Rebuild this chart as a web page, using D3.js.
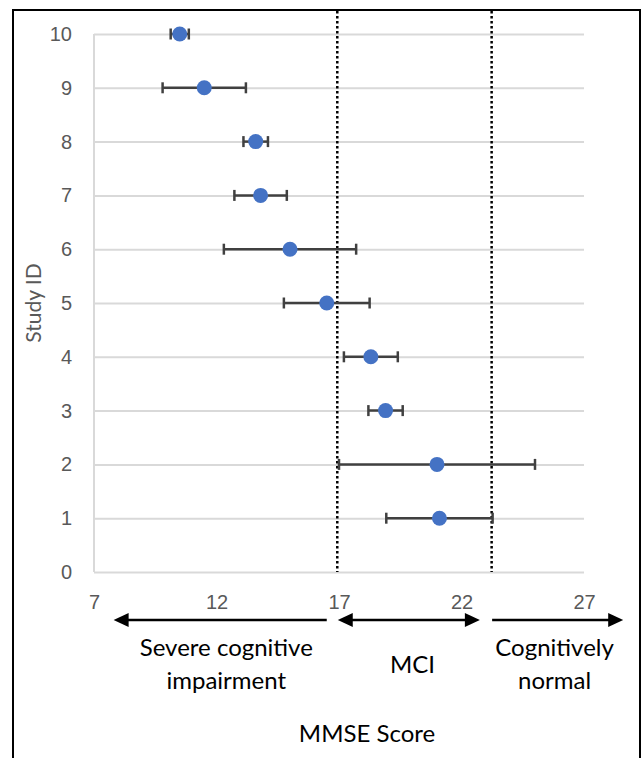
<!DOCTYPE html>
<html>
<head>
<meta charset="utf-8">
<script src="https://cdn.jsdelivr.net/npm/d3@7"></script>
<style>
  body { margin: 0; background: #fff; }
  svg { font-family: Lato, "Open Sans", sans-serif; }
</style>
</head>
<body>
<svg id="chart"></svg>
<script>
const width = 643, height = 758;

// données
const studyIds = [1, 2, 3, 4, 5, 6, 7, 8, 9, 10];
const mmseMean = [21.1, 21.0, 18.9, 18.3, 16.5, 15.0, 13.8, 13.6, 11.5, 10.5];
const mmseErr  = [2.17, 4.0, 0.7, 1.1, 1.75, 2.7, 1.07, 0.5, 1.7, 0.37];
const xTicks = [7, 12, 17, 22, 27];
const yTicks = [0, 1, 2, 3, 4, 5, 6, 7, 8, 9, 10];
const cutoffs = [16.93, 23.23];

// zones de l'échelle MMSE (flèches sous l'axe)
const bandNames  = ["severe", "mci", "normal"];
const bandFrom   = [7.8, 16.95, 23.25];
const bandTo     = [16.5, 22.75, 28.6];
const bandHeads  = [["start"], ["start", "end"], ["end"]];
const bandLabels = [["Severe cognitive", "impairment"], ["MCI"], ["Cognitively", "normal"]];
const bandLabelX = [12.4, 20.0, 25.8];

const x = d3.scaleLinear().domain([7, 27]).range([94, 584]);
const y = d3.scaleLinear().domain([0, 10]).range([572, 34]);

const svg = d3.select("#chart")
    .attr("width", width)
    .attr("height", height);

// cadre
svg.append("rect")
    .attr("x", 13).attr("y", 10)
    .attr("width", 627).attr("height", 760)
    .attr("fill", "none")
    .attr("stroke", "#000")
    .attr("stroke-width", 2);

// grille horizontale + graduations Y
const yAxis = svg.append("g")
    .attr("transform", `translate(${x(7)},0)`)
    .call(d3.axisLeft(y).tickValues(yTicks).tickSize(-(x(27) - x(7))).tickPadding(22));
yAxis.select(".domain").remove();
yAxis.selectAll(".tick line")
    .attr("stroke", "#d9d9d9")
    .attr("stroke-width", 2);
yAxis.selectAll(".tick text")
    .attr("fill", "#595959")
    .style("font-size", "20px");

// ligne verticale de l'axe Y
svg.append("line")
    .attr("x1", x(7)).attr("x2", x(7))
    .attr("y1", y(10)).attr("y2", y(0))
    .attr("stroke", "#d9d9d9")
    .attr("stroke-width", 2);

// graduations X
const xAxis = svg.append("g")
    .attr("transform", `translate(0,${y(0)})`)
    .call(d3.axisBottom(x).tickValues(xTicks).tickSize(0));
xAxis.select(".domain").remove();
xAxis.selectAll(".tick text")
    .attr("y", 37)
    .attr("dy", 0)
    .attr("fill", "#595959")
    .style("font-size", "20px");

// seuils en pointillés
svg.selectAll(".cutoff")
    .data(cutoffs)
    .enter().append("line")
    .attr("class", "cutoff")
    .attr("x1", d => x(d)).attr("x2", d => x(d))
    .attr("y1", 11).attr("y2", y(0))
    .attr("stroke", "#000")
    .attr("stroke-width", 2.5)
    .attr("stroke-dasharray", "2.5,2.5");

const studies = studyIds.map((id, i) => ({ id, mean: mmseMean[i], err: mmseErr[i] }));

// barres d'erreur
const eb = svg.selectAll(".err")
    .data(studies)
    .enter().append("g")
    .attr("class", "err")
    .attr("stroke", "#404040")
    .attr("stroke-width", 2.5);
eb.append("line")
    .attr("x1", d => x(d.mean - d.err)).attr("x2", d => x(d.mean + d.err))
    .attr("y1", d => y(d.id)).attr("y2", d => y(d.id));
eb.append("line")
    .attr("x1", d => x(d.mean - d.err)).attr("x2", d => x(d.mean - d.err))
    .attr("y1", d => y(d.id) - 5.5).attr("y2", d => y(d.id) + 5.5);
eb.append("line")
    .attr("x1", d => x(d.mean + d.err)).attr("x2", d => x(d.mean + d.err))
    .attr("y1", d => y(d.id) - 5.5).attr("y2", d => y(d.id) + 5.5);

// points
svg.selectAll(".pt")
    .data(studies)
    .enter().append("circle")
    .attr("class", "pt")
    .attr("cx", d => x(d.mean))
    .attr("cy", d => y(d.id))
    .attr("r", 7.5)
    .attr("fill", "#4472c4");

// titres des axes
svg.append("text")
    .attr("transform", `translate(41,${(y(0) + y(10)) / 2}) rotate(-90)`)
    .attr("text-anchor", "middle")
    .attr("fill", "#595959")
    .style("font-size", "21px")
    .text("Study ID");

svg.append("text")
    .attr("x", 367).attr("y", 742)
    .attr("text-anchor", "middle")
    .attr("fill", "#000")
    .style("font-size", "24px")
    .text("MMSE Score");

// flèches des zones
const arrowY = 620, headLen = 15, headHalf = 7;
const bands = bandNames.map((name, i) => ({
    name, from: bandFrom[i], to: bandTo[i], heads: bandHeads[i],
    lines: bandLabels[i], lx: bandLabelX[i]
}));

const bg = svg.selectAll(".band")
    .data(bands)
    .enter().append("g")
    .attr("class", "band");

bg.append("line")
    .attr("x1", d => x(d.from) + (d.heads.includes("start") ? headLen - 2 : 0))
    .attr("x2", d => x(d.to) - (d.heads.includes("end") ? headLen - 2 : 0))
    .attr("y1", arrowY).attr("y2", arrowY)
    .attr("stroke", "#000")
    .attr("stroke-width", 2.5);

bg.each(function(d) {
    const g = d3.select(this);
    if (d.heads.includes("start")) {
        const x0 = x(d.from);
        g.append("path")
            .attr("d", `M${x0},${arrowY}L${x0 + headLen},${arrowY - headHalf}L${x0 + headLen},${arrowY + headHalf}Z`)
            .attr("fill", "#000");
    }
    if (d.heads.includes("end")) {
        const x1 = x(d.to);
        g.append("path")
            .attr("d", `M${x1},${arrowY}L${x1 - headLen},${arrowY - headHalf}L${x1 - headLen},${arrowY + headHalf}Z`)
            .attr("fill", "#000");
    }
});

bg.append("text")
    .attr("text-anchor", "middle")
    .attr("fill", "#000")
    .style("font-size", "24px")
    .attr("x", d => x(d.lx))
    .attr("y", d => d.lines.length === 1 ? 673 : 656)
    .selectAll("tspan")
    .data(d => d.lines.map(t => ({ t, lx: d.lx })))
    .enter().append("tspan")
    .attr("x", d => x(d.lx))
    .attr("dy", (d, i) => i === 0 ? 0 : 33)
    .text(d => d.t);
</script>
</body>
</html>
